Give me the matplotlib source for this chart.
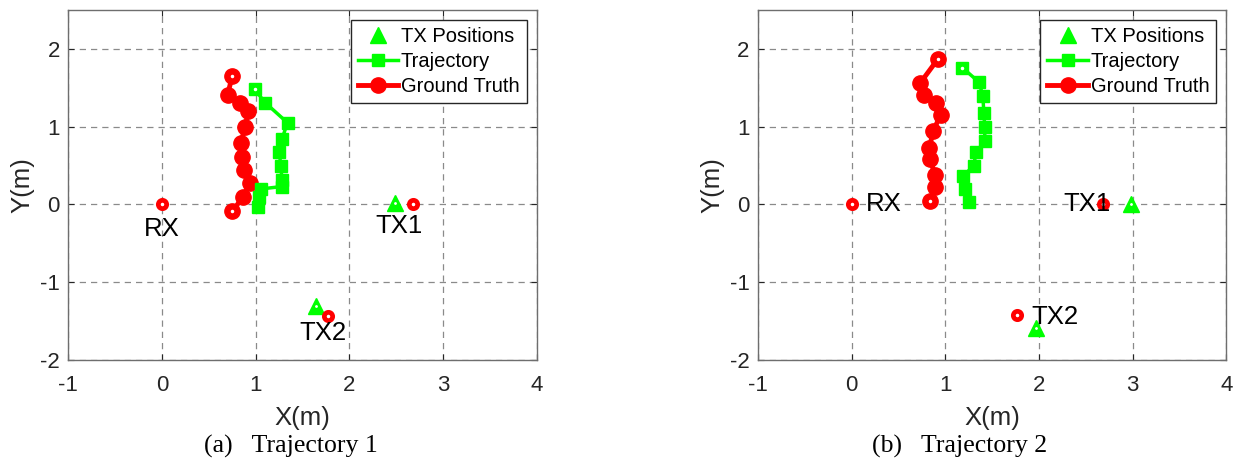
import matplotlib.pyplot as plt

plt.rcParams['axes.unicode_minus'] = False

# trajectory 1 (left panel)
gt1_x = [0.75, 0.70, 0.83, 0.92, 0.89, 0.84, 0.85, 0.88, 0.94, 0.86, 0.75]
gt1_y = [1.65, 1.41, 1.31, 1.20, 1.00, 0.79, 0.61, 0.44, 0.27, 0.09, -0.09]
tr1_x = [0.99, 1.10, 1.34, 1.28, 1.25, 1.27, 1.28, 1.28, 1.06, 1.04, 1.03]
tr1_y = [1.48, 1.31, 1.05, 0.84, 0.68, 0.49, 0.31, 0.23, 0.20, 0.09, -0.03]
tx1_true = [(2.675, 0.0), (1.77, -1.43)]
tx1_est = [(2.49, 0.02), (1.64, -1.31)]

# trajectory 2 (right panel)
gt2_x = [0.92, 0.73, 0.775, 0.90, 0.95, 0.87, 0.83, 0.835, 0.89, 0.89, 0.835]
gt2_y = [1.87, 1.56, 1.41, 1.30, 1.15, 0.95, 0.73, 0.58, 0.38, 0.22, 0.04]
tr2_x = [1.18, 1.36, 1.40, 1.41, 1.42, 1.42, 1.33, 1.30, 1.19, 1.21, 1.25]
tr2_y = [1.76, 1.57, 1.39, 1.18, 0.99, 0.82, 0.67, 0.50, 0.36, 0.20, 0.03]
tx2_true = [(2.687, 0.0), (1.76, -1.42)]
tx2_est = [(2.98, 0.0), (1.97, -1.59)]

rx = (0.0, 0.0)
xticks = [-1, 0, 1, 2, 3, 4]
yticks = [-2, -1, 0, 1, 2]

# text positions: (label, x, y, ha)
labels1 = [('RX', 0.0, -0.32, 'center'), ('TX1', 2.535, -0.28, 'center'),
           ('TX2', 1.716, -1.655, 'center')]
labels2 = [('RX', 0.15, 0.0, 'left'), ('TX1', 2.26, 0.0, 'left'),
           ('TX2', 1.92, -1.445, 'left')]

sans = 'Liberation Sans'
serif = 'Liberation Serif'
green = '#00ff00'
red = '#ff0000'

fig = plt.figure(figsize=(12.33, 4.59), dpi=100)
ax1 = fig.add_axes([0.0554, 0.2157, 0.3799, 0.7625])
ax2 = fig.add_axes([0.6148, 0.2157, 0.3799, 0.7625])


def draw(ax, gx, gy, tx, ty, tx_true, tx_est, labels, caption, cap_x):
    h_tx, = ax.plot([p[0] for p in tx_est], [p[1] for p in tx_est], '^',
                    color=green, ms=11, ls='none', zorder=5)
    ax.plot([p[0] for p in tx_est], [p[1] for p in tx_est], '.',
            color='white', ms=2, zorder=6)
    h_gt, = ax.plot(gx, gy, '-o', color=red, lw=3.5, ms=11, zorder=3)
    h_tr, = ax.plot(tx, ty, '-s', color=green, lw=2.5, ms=9, zorder=4)
    # white dots at start / end points
    ax.plot([gx[0], gx[-1]], [gy[0], gy[-1]], '.', color='white', ms=3, zorder=4)
    ax.plot([tx[0]], [ty[0]], '.', color='white', ms=3, zorder=5)
    nx = [rx[0]] + [p[0] for p in tx_true]
    ny = [rx[1]] + [p[1] for p in tx_true]
    ax.plot(nx, ny, 'o', ls='none', ms=6, mew=3.4, mec=red, mfc='white',
            zorder=6)
    for txt, x, y, ha in labels:
        ax.text(x, y, txt, ha=ha, va='center', fontsize=18.5, family=sans,
                zorder=7)

    ax.set_xlim(-1, 4)
    ax.set_ylim(-2, 2.5)
    ax.set_xticks(xticks)
    ax.set_yticks(yticks)
    ax.tick_params(direction='in', length=4, labelsize=16, colors='#262626',
                   top=True, right=True)
    ax.tick_params(axis='x', pad=11)
    ax.tick_params(axis='y', pad=6)
    for lab in ax.get_xticklabels() + ax.get_yticklabels():
        lab.set_family(sans)
    for s in ax.spines.values():
        s.set_color('#6e6e6e')
        s.set_linewidth(1)
    ax.grid(True, ls=(0, (5, 4)), color='#8a8a8a', lw=0.9)
    ax.set_axisbelow(True)
    ax.set_xlabel('X(m)', fontsize=18.5, family=sans, color='#262626', labelpad=7)
    ax.set_ylabel('Y(m)', fontsize=18.5, family=sans, color='#262626', labelpad=4)

    leg = ax.legend([h_tx, h_tr, h_gt], ['TX Positions', 'Trajectory', 'Ground Truth'],
                    loc='upper right', prop={'family': sans, 'size': 14.5},
                    handlelength=2.0, handletextpad=0.15, borderpad=0.35,
                    labelspacing=0.3, borderaxespad=0.5, fancybox=False,
                    framealpha=1)
    leg.get_frame().set_edgecolor('#262626')
    leg.get_frame().set_linewidth(1)

    fig.text(cap_x, 0.002, caption, ha='center', va='bottom', fontsize=18.5,
             family=serif)


draw(ax1, gt1_x, gt1_y, tr1_x, tr1_y, tx1_true, tx1_est, labels1,
     '(a)   Trajectory 1', 0.236)
draw(ax2, gt2_x, gt2_y, tr2_x, tr2_y, tx2_true, tx2_est, labels2,
     '(b)   Trajectory 2', 0.778)

fig.savefig('out.png', dpi=100)
